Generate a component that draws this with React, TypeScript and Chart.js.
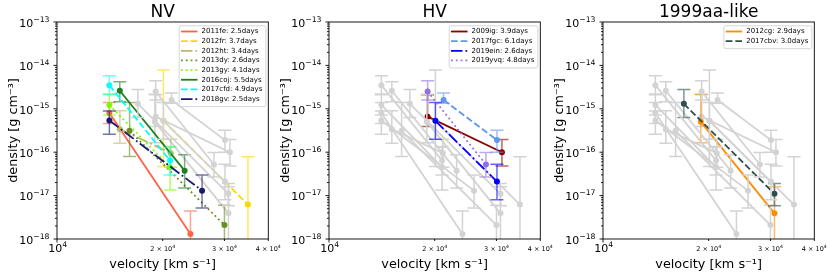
import React, { useEffect, useRef } from "react";
import { Chart, registerables } from "chart.js";
Chart.register(...registerables);

// ---------------- data ----------------
const NV_LABELS = ["2011fe: 2.5days", "2012fr: 3.7days", "2012ht: 3.4days", "2013dy: 2.6days", "2013gy: 4.1days", "2016coj: 5.5days", "2017cfd: 4.9days", "2018gv: 2.5days"];
const NV_VEL = [[14100, 24000], [20100, 35000], [15100, 21100], [16100, 30000], [14100, 21000], [15100, 23100], [14100, 21000], [14100, 25900]];
const NV_RHO = [[8.0e-16, 1.3e-18], [5.3e-16, 6.2e-18], [3.4e-16, 9.5e-17], [3.1e-16, 2.1e-18], [1.23e-15, 4.5e-17], [2.6e-15, 3.75e-17], [3.5e-15, 6.4e-17], [5.4e-16, 1.3e-17]];
const NV_LO = [[4.6e-16, 1e-20], [4.7e-17, 1e-20], [1.6e-16, 4.5e-17], [8.0e-17, 1e-20], [7.2e-16, 1.35e-17], [1.45e-15, 1.5e-17], [2.2e-15, 3.0e-17], [2.6e-16, 5.2e-18]];
const NV_HI = [[1.4e-15, 4.4e-18], [7.8e-15, 7.9e-17], [9.0e-16, 2.0e-16], [1.4e-15, 6.0e-18], [2.1e-15, 1.35e-16], [4.2e-15, 8.7e-17], [5.8e-15, 1.3e-16], [8.9e-16, 3.0e-17]];

const HV_LABELS = ["2009ig: 3.9days", "2017fgc: 6.1days", "2019ein: 2.6days", "2019yvq: 4.8days"];
const HV_VEL = [[19100, 31100], [21200, 30100], [20100, 30100], [19100, 28000]];
const HV_RHO = [[6.6e-16, 1.0e-16], [1.6e-15, 1.9e-16], [5.3e-16, 2.1e-17], [2.5e-15, 5.2e-17]];
const HV_LO = [[3.9e-16, 4.8e-17], [1.35e-15, 1.0e-16], [2.0e-16, 8.0e-18], [1.6e-15, 2.7e-17]];
const HV_HI = [[2.1e-15, 1.95e-16], [2.3e-15, 3.2e-16], [1.4e-15, 5.3e-17], [4.4e-15, 9.8e-17]];

const AA_LABELS = ["2012cg: 2.9days", "2017cbv: 3.0days"];
const AA_VEL = [[19000, 30800], [17000, 30800]];
const AA_RHO = [[5.0e-16, 3.9e-18], [1.3e-15, 1.1e-17]];
const AA_LO = [[1.65e-16, 1e-20], [6.3e-16, 5.8e-18]];
const AA_HI = [[2.15e-15, 1.6e-17], [2.8e-15, 1.9e-17]];

const X_MAJOR = [1e4];
const X_MINOR = [2e4, 3e4, 4e4];
const X_MINOR_MANT = ["2", "3", "4"];
const Y_EXPONENTS = [-13, -14, -15, -16, -17, -18];

// ---------------- styles ----------------
const NV_COLORS = ["#FF6347", "#FFD700", "#BDB76B", "#6B8E23", "#7CFC00", "#1F7F1F", "#00FFFF", "#191970"];
const NV_DASH = ["solid", "dashed", "dashdot", "dotted", "dotted", "solid", "dashed", "dashdot"];
const HV_COLORS = ["#8B0000", "#6495ED", "#0000FF", "#9370DB"];
const HV_DASH = ["solid", "dashed", "dashdot", "dotted"];
const AA_COLORS = ["#FF8C00", "#2F4F4F"];
const AA_DASH = ["solid", "dashed"];

const GREY = "#D3D3D3";
const FONT = '"DejaVu Sans", sans-serif';
const LW = 1.8;
const DASHES: Record<string, number[]> = {
  solid: [],
  dashed: [6.7, 2.9],
  dashdot: [11.5, 2.9, 1.8, 2.9],
  dotted: [1.8, 3],
};

type Group = { labels: string[]; vel: number[][]; rho: number[][]; lo: number[][]; hi: number[][]; colors: string[]; dashes: string[] };
const NV: Group = { labels: NV_LABELS, vel: NV_VEL, rho: NV_RHO, lo: NV_LO, hi: NV_HI, colors: NV_COLORS, dashes: NV_DASH };
const HV: Group = { labels: HV_LABELS, vel: HV_VEL, rho: HV_RHO, lo: HV_LO, hi: HV_HI, colors: HV_COLORS, dashes: HV_DASH };
const AA: Group = { labels: AA_LABELS, vel: AA_VEL, rho: AA_RHO, lo: AA_LO, hi: AA_HI, colors: AA_COLORS, dashes: AA_DASH };

// drawing order: chronological by SN name (later names on top)
const ALL_NAMES = [...NV_LABELS, ...HV_LABELS, ...AA_LABELS].map((l) => l.split(":")[0]).sort();

const PANELS = [
  { title: "NV", plotLeft: 57, main: NV, grey: [HV, AA] },
  { title: "HV", plotLeft: 329, main: HV, grey: [NV, AA] },
  { title: "1999aa-like", plotLeft: 603, main: AA, grey: [NV, HV] },
];

const CW = 285;
const CH = 279;
const PLOT_W = 211.3;
const PAD_LEFT = 5.5;
const YAXIS_W = 57 - PAD_LEFT;

function withAlpha(hex: string, a: number) {
  const n = parseInt(hex.slice(1), 16);
  return `rgba(${(n >> 16) & 255},${(n >> 8) & 255},${n & 255},${a})`;
}

function buildDatasets(g: Group, greyed: boolean) {
  return g.labels.map((label, i) => {
    const c = greyed ? GREY : g.colors[i];
    const rank = ALL_NAMES.indexOf(label.split(":")[0]);
    return {
      type: "line",
      label,
      data: g.vel[i].map((v, j) => ({ x: v, y: g.rho[i][j] })),
      errLo: g.lo[i],
      errHi: g.hi[i],
      errColor: greyed ? GREY : withAlpha(g.colors[i], 0.6),
      borderColor: c,
      backgroundColor: c,
      pointBackgroundColor: c,
      pointBorderColor: c,
      pointBorderWidth: 0,
      pointRadius: 3,
      borderWidth: LW,
      borderDash: greyed ? [] : DASHES[g.dashes[i]],
      tension: 0,
      fill: false,
      order: 100 - rank,
    };
  });
}

function drawPow(ctx: CanvasRenderingContext2D, base: string, exp: string, x: number, baseline: number, bs: number, es: number, rise: number, align: "right" | "center") {
  ctx.font = `${bs}px ${FONT}`;
  const wb = ctx.measureText(base).width;
  ctx.font = `${es}px ${FONT}`;
  const we = ctx.measureText(exp).width;
  const total = wb + we;
  const x0 = align === "right" ? x - total : x - total / 2;
  ctx.textAlign = "left";
  ctx.textBaseline = "alphabetic";
  ctx.fillStyle = "#000";
  ctx.font = `${bs}px ${FONT}`;
  ctx.fillText(base, x0, baseline);
  ctx.font = `${es}px ${FONT}`;
  ctx.fillText(exp, x0 + wb, baseline - rise);
}

function Panel({ cfg }: { cfg: (typeof PANELS)[number] }) {
  const ref = useRef<HTMLCanvasElement>(null);
  useEffect(() => {
    const datasets: any[] = [];
    cfg.grey.forEach((g) => datasets.push(...buildDatasets(g, true)));
    datasets.push(...buildDatasets(cfg.main, false));

    const errPlugin = {
      id: "errbars",
      beforeDatasetDraw(chart: any, args: any) {
        const ds = chart.data.datasets[args.index];
        if (!ds.errLo) return;
        const { ctx, chartArea: ca } = chart;
        const xs = chart.scales.x;
        const ys = chart.scales.y;
        ctx.save();
        ctx.beginPath();
        ctx.rect(ca.left, ca.top, ca.right - ca.left, ca.bottom - ca.top);
        ctx.clip();
        ctx.strokeStyle = ds.errColor;
        ctx.lineWidth = 1.5;
        ctx.setLineDash([]);
        const cap = 6.5;
        ds.data.forEach((p: any, i: number) => {
          const x = xs.getPixelForValue(p.x);
          const y1 = ys.getPixelForValue(ds.errLo[i]);
          const y2 = ys.getPixelForValue(ds.errHi[i]);
          ctx.beginPath();
          ctx.moveTo(x, Math.min(y1, ca.bottom + 5));
          ctx.lineTo(x, y2);
          ctx.moveTo(x - cap, y1);
          ctx.lineTo(x + cap, y1);
          ctx.moveTo(x - cap, y2);
          ctx.lineTo(x + cap, y2);
          ctx.stroke();
        });
        ctx.restore();
      },
    };

    const decorPlugin = {
      id: "decor",
      afterDraw(chart: any) {
        const { ctx, chartArea: ca } = chart;
        const xs = chart.scales.x;
        const ys = chart.scales.y;
        ctx.save();
        // frame
        ctx.strokeStyle = "#000";
        ctx.lineWidth = 0.9;
        ctx.setLineDash([]);
        ctx.strokeRect(ca.left, ca.top, ca.right - ca.left, ca.bottom - ca.top);
        // ticks
        ctx.beginPath();
        Y_EXPONENTS.forEach((e) => {
          const y = ys.getPixelForValue(Math.pow(10, e));
          ctx.moveTo(ca.left - 3.5, y);
          ctx.lineTo(ca.left, y);
          for (let m = 2; m <= 9; m++) {
            const v = m * Math.pow(10, e);
            if (v >= 1e-13) continue;
            const ym = ys.getPixelForValue(v);
            ctx.moveTo(ca.left - 2, ym);
            ctx.lineTo(ca.left, ym);
          }
        });
        X_MAJOR.forEach((v) => {
          const x = xs.getPixelForValue(v);
          ctx.moveTo(x, ca.bottom);
          ctx.lineTo(x, ca.bottom + 3.5);
        });
        X_MINOR.forEach((v) => {
          const x = xs.getPixelForValue(v);
          ctx.moveTo(x, ca.bottom);
          ctx.lineTo(x, ca.bottom + 2);
        });
        ctx.stroke();
        // y labels
        Y_EXPONENTS.forEach((e) => {
          const y = ys.getPixelForValue(Math.pow(10, e));
          drawPow(ctx, "10", "\u2212" + String(-e), ca.left - 7.5, y + 4.8, 11, 7.7, 5.2, "right");
        });
        // x labels
        X_MAJOR.forEach((v) => {
          const x = xs.getPixelForValue(v);
          drawPow(ctx, "10", "4", x + 0.8, ca.bottom + 13.3, 11, 7.7, 5.5, "center");
        });
        X_MINOR.forEach((v, i) => {
          const x = xs.getPixelForValue(v);
          drawPow(ctx, X_MINOR_MANT[i] + " \u00d7 10", "4", x, ca.bottom + 11.5, 6.5, 4.6, 3, "center");
        });
        // title
        ctx.fillStyle = "#000";
        ctx.font = `17px ${FONT}`;
        ctx.textAlign = "center";
        ctx.textBaseline = "middle";
        ctx.fillText(cfg.title, (ca.left + ca.right) / 2, 12.2);
        // legend
        const g = cfg.main;
        ctx.font = `7px ${FONT}`;
        const maxW = Math.max(...g.labels.map((l) => ctx.measureText(l).width));
        const right = ca.right - 2.5;
        const top = ca.top + 3.8;
        const w = 22.3 + maxW + 3.5;
        const left = right - w;
        const rowH = 9.65;
        const first = top + 5.7;
        const h = 5.7 + (g.labels.length - 1) * rowH + 7.5;
        ctx.beginPath();
        ctx.roundRect(left, top, w, h, 2);
        ctx.fillStyle = "rgba(255,255,255,0.8)";
        ctx.fill();
        ctx.strokeStyle = "#CCCCCC";
        ctx.lineWidth = 0.8;
        ctx.stroke();
        g.labels.forEach((l, i) => {
          const y = first + i * rowH;
          ctx.beginPath();
          ctx.strokeStyle = g.colors[i];
          ctx.lineWidth = LW;
          ctx.setLineDash(DASHES[g.dashes[i]]);
          ctx.moveTo(left + 1.8, y);
          ctx.lineTo(left + 18.3, y);
          ctx.stroke();
          ctx.setLineDash([]);
          ctx.fillStyle = "#000";
          ctx.font = `7px ${FONT}`;
          ctx.textAlign = "left";
          ctx.textBaseline = "middle";
          ctx.fillText(l, left + 22.3, y);
        });
        ctx.restore();
      },
    };

    const chart = new Chart(ref.current!, {
      type: "line",
      data: { datasets },
      options: {
        animation: false,
        responsive: false,
        maintainAspectRatio: false,
        events: [],
        layout: { padding: { left: PAD_LEFT, top: 22, right: CW - 57 - PLOT_W, bottom: 0 } },
        plugins: { legend: { display: false }, tooltip: { enabled: false }, title: { display: false } },
        scales: {
          x: {
            type: "logarithmic",
            min: 1e4,
            max: 4e4,
            grid: { display: false },
            border: { display: false },
            ticks: { display: false },
            title: { display: true, text: "velocity [km s\u207b\u00b9]", color: "#000", font: { family: FONT, size: 12.8 }, padding: { top: 0, bottom: 6.7 } },
            afterFit: (s: any) => { s.height = 40; },
          },
          y: {
            type: "logarithmic",
            min: 1e-18,
            max: 1e-13,
            grid: { display: false },
            border: { display: false },
            ticks: { display: false },
            title: { display: true, text: "density [g cm\u207b\u00b3]", color: "#000", font: { family: FONT, size: 12.8 }, padding: { top: 0.8, bottom: 0 } },
            afterFit: (s: any) => { s.width = YAXIS_W; },
          },
        },
      } as any,
      plugins: [errPlugin, decorPlugin],
    } as any);
    return () => chart.destroy();
  }, []);
  return (
    <canvas
      ref={ref}
      width={CW}
      height={CH}
      style={{ position: "absolute", left: cfg.plotLeft - 57, top: 0, width: CW, height: CH }}
    />
  );
}

export default function App() {
  return (
    <div style={{ position: "absolute", left: 0, top: 0, width: 830, height: 279, overflow: "hidden", background: "#fff" }}>
      {PANELS.map((p) => (
        <Panel key={p.title} cfg={p} />
      ))}
    </div>
  );
}
